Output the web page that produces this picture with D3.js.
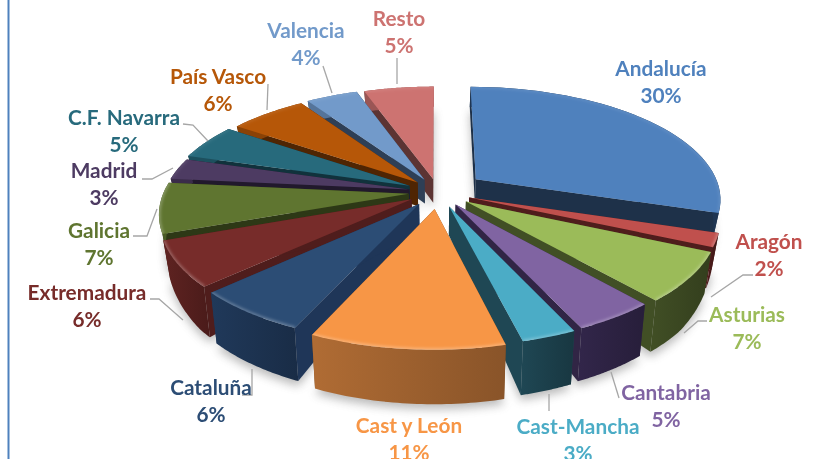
<!DOCTYPE html>
<html>
<head>
<meta charset="utf-8">
<script src="https://cdn.jsdelivr.net/npm/d3@7"></script>
<style>
html,body{margin:0;padding:0;background:#fff;overflow:hidden}
text{font-family:Lato,"Open Sans",sans-serif;font-weight:700;font-size:20.8px;text-anchor:middle}
</style>
</head>
<body>
<svg id="chart" width="821" height="459"></svg>
<script>
// values, the labels show them rounded
const regions = ["Andalucía","Aragón","Asturias","Cantabria","Cast-Mancha","Cast y León","Cataluña","Extremadura","Galicia","Madrid","C.F. Navarra","País Vasco","Valencia","Resto"]
const shares = [29.8,1.9,6.9,4.5,3,10.6,6.3,6.4,7.1,3,5,6,4,5.4]

const topColors = ["#4f81bd","#c0504d","#9bbb59","#8064a2","#4bacc6","#f79646","#2c4d75","#772c2a","#5f7530","#4d3b62","#276a7c","#b65708","#729aca","#cd7371"]
const rimColors = ["#1f3552","#4f1d1c","#414f25","#32264a","#1f4754","#b06c34","#20395a","#5f2321","#4a5c26","#3a2c4a","#1d505e","#8a4206","#55749a","#9a5655"]
const cutColors = ["#1e3149","#4f1d1c","#414f25","#312545","#1f4754","#7a4a1f","#1f3658","#4f1d1c","#2d3816","#21192c","#11323c","#4f2503","#2e3f56","#5c3433"]

// how far each slice is pulled out, as a share of the radius
const pullOut = [0.195,0.135,0.14,0.13,0.135,0.15,0.13,0.125,0.12,0.12,0.13,0.12,0.125,0.12]

// label centres and leader lines, in page pixels
const labelAt = [[661,69],[769,242],[747,315],[666,393],[578,427],[409,426],[211,388],[87,293],[99,231],[104,171],[124,118],[218,77],[306,31],[399,19]]
const leaders = [
    null,
    [[753,275],[743,275],[711,297]],
    [[707,321],[698,321],[684,333]],
    [[619,398],[611,372]],
    [[549,411],[549,394]],
    null,
    [[242,395],[252,395],[252,369]],
    [[150,299],[159,299],[183,320]],
    [[133,236],[147,236],[157,209]],
    [[142,179],[152,179],[173,168]],
    [[183,124],[193,125],[208,141]],
    [[268,84],[267,110]],
    [[323,66],[332,93]],
    [[397,58],[397,84]]
]

const config = {cx:438, cy:192, radius:245, tilt:0.455, dist:6.12, steps:40}

const svg = d3.select("#chart")
const defs = svg.append("defs")

defs.append("filter").attr("id","soft")
    .attr("x","-20%").attr("y","-20%").attr("width","140%").attr("height","140%")
    .append("feGaussianBlur").attr("stdDeviation",5)
defs.append("filter").attr("id","bevel")
    .attr("x","-20%").attr("y","-20%").attr("width","140%").attr("height","140%")
    .append("feGaussianBlur").attr("stdDeviation",1.8)

// left border of the slide frame
svg.append("line")
    .attr("x1",8.5).attr("x2",8.5).attr("y1",0).attr("y2",459)
    .attr("stroke","#4f81bd").attr("stroke-width",2)

// thickness grows a lot towards the viewer
const depth = d3.scaleLinear().domain([-1.2,0,0.7,1.2]).range([20,24,50,55]).clamp(true)

function project(u,v,low){
    const p = config.dist/(config.dist-v)
    let x = config.cx+config.radius*u*p
    let y = config.cy+config.radius*config.tilt*v*p
    if(low){
        y += depth(v)
        x = config.cx+(x-config.cx)*0.975
    }
    return [x,y]
}

const pie = d3.pie().sort(null).value(d=>d)
const line = d3.line()

const slices = pie(shares).map((d,i)=>{
    const mid = (d.startAngle+d.endAngle)/2
    const ou = Math.sin(mid)*pullOut[i], ov = -Math.cos(mid)*pullOut[i]
    const angles = d3.range(config.steps+1).map(k=>d.startAngle+(d.endAngle-d.startAngle)*k/config.steps)
    const rim = low=>angles.map(a=>project(ou+Math.sin(a),ov-Math.cos(a),low))
    const apex = low=>project(ou,ov,low)
    return {i,mid,apex,rimTop:rim(false),rimLow:rim(true)}
})

const ordered = slices.slice().sort((a,b)=>(-Math.cos(a.mid))-(-Math.cos(b.mid)))

// shadow under the whole pie
svg.append("g").attr("filter","url(#soft)").attr("opacity",0.4)
    .selectAll("path").data(slices).join("path")
    .attr("d",s=>line([s.apex(true),...s.rimLow])+"Z")
    .attr("fill","#555")
    .attr("transform","translate(0,5)")

const groups = svg.append("g").selectAll("g").data(ordered).join("g")

// cut faces first, the rim and the top go over them
groups.each(function(s){
    const g = d3.select(this)
    const last = s.rimTop.length-1
    const faces = [
        [s.apex(false),s.rimTop[0],s.rimLow[0],s.apex(true)],
        [s.apex(false),s.rimTop[last],s.rimLow[last],s.apex(true)]
    ]
    g.selectAll("path.cut").data(faces).join("path")
        .attr("class","cut")
        .attr("d",f=>line(f)+"Z")
        .attr("fill",cutColors[s.i])

    const grad = defs.append("linearGradient").attr("id","rim"+s.i)
    grad.append("stop").attr("offset","0%").attr("stop-color",rimColors[s.i])
    grad.append("stop").attr("offset","100%").attr("stop-color",d3.rgb(rimColors[s.i]).darker(0.7))
    g.append("path")
        .attr("d",line([...s.rimTop,...s.rimLow.slice().reverse()])+"Z")
        .attr("fill",s.rimTop[0][0]>s.rimTop[last][0] ? `url(#rim${s.i})` : rimColors[s.i])

    const topPath = line([s.apex(false),...s.rimTop])+"Z"
    g.append("path").attr("d",topPath).attr("fill",topColors[s.i])

    // lit edge along the rounded rim
    defs.append("clipPath").attr("id","clip"+s.i).append("path").attr("d",topPath)
    g.append("g").attr("clip-path",`url(#clip${s.i})`)
        .append("path")
        .attr("d",line(s.rimTop))
        .attr("fill","none")
        .attr("stroke","#fff")
        .attr("stroke-opacity",s.mid>Math.PI/2 && s.mid<Math.PI*1.5 ? 0.3 : 0.1)
        .attr("stroke-width",3)
        .attr("filter","url(#bevel)")
})

// leader lines
svg.append("g").selectAll("path").data(leaders.filter(d=>d)).join("path")
    .attr("d",d=>line(d))
    .attr("fill","none")
    .attr("stroke","#a6a6a6")
    .attr("stroke-width",1.3)

// labels
const labels = svg.append("g").selectAll("g").data(regions).join("g")
    .attr("transform",(d,i)=>`translate(${labelAt[i][0]},${labelAt[i][1]})`)
    .attr("fill",(d,i)=>topColors[i])
labels.append("text").attr("dy","0.35em").text(d=>d)
labels.append("text").attr("y",27).attr("dy","0.35em").text((d,i)=>Math.round(shares[i])+"%")
</script>
</body>
</html>
